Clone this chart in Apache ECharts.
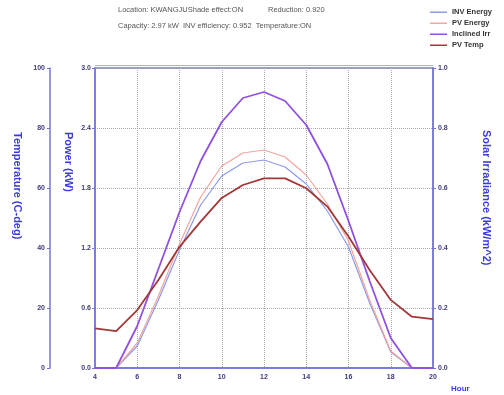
<!DOCTYPE html>
<html>
<head>
<meta charset="utf-8">
<script src="https://cdn.jsdelivr.net/npm/echarts@6/dist/echarts.min.js"></script>
<style>
  html, body { margin: 0; padding: 0; background: #fff; }
  #chart { width: 504px; height: 395px; }
</style>
</head>
<body>
<div id="chart"></div>
<script>
// 시간 (Hour)
const hours = [4, 5, 6, 7, 8, 9, 10, 11, 12, 13, 14, 15, 16, 17, 18, 19, 20];
// kW
const invEnergy = [0, 0, 0.22, 0.68, 1.18, 1.63, 1.92, 2.05, 2.08, 2.01, 1.84, 1.57, 1.21, 0.65, 0.16, 0, 0];
const pvEnergy = [0, 0, 0.25, 0.72, 1.24, 1.71, 2.02, 2.15, 2.18, 2.11, 1.93, 1.64, 1.27, 0.68, 0.17, 0, 0];
// kW/m^2
const inclinedIrr = [0, 0, 0.14, 0.33, 0.52, 0.69, 0.82, 0.90, 0.92, 0.89, 0.81, 0.68, 0.49, 0.29, 0.10, 0, 0];
// C-deg
const pvTemp = [13.2, 12.3, 19.3, 29.3, 40.4, 48.8, 56.7, 61.0, 63.2, 63.2, 59.9, 53.8, 43.8, 32.7, 22.7, 17.1, 16.3];

const axisColor = '#7474dc';
const labelStyle = { fontSize: 7, fontWeight: 'bold', color: '#3b3b78', fontFamily: 'Liberation Sans' };
const titleStyle = { fontSize: 11, fontWeight: 'bold', fill: '#3a3ae0', fontFamily: 'Liberation Sans' };
const infoStyle = { fontSize: 7.5, fill: '#555', fontFamily: 'Liberation Sans' };

function pairs(arr) {
  return hours.map((h, i) => [h, arr[i]]);
}

const chart = echarts.init(document.getElementById('chart'));
chart.setOption({
  animation: false,
  grid: {
    left: 95, right: 71, top: 68, bottom: 27,
    show: true, borderColor: axisColor, borderWidth: 1.5,
  },
  legend: {
    orient: 'vertical',
    left: 425,
    top: 3,
    itemGap: 2.5,
    itemWidth: 17,
    itemHeight: 1.5,
    icon: 'rect',
    textStyle: { fontSize: 7.5, fontWeight: 'bold', color: '#333', lineHeight: 8.5, fontFamily: 'Liberation Sans' },
    data: ['INV Energy', 'PV Energy', 'Inclined Irr', 'PV Temp'],
  },
  graphic: [
    { type: 'text', left: 118, top: 6, style: Object.assign({ text: 'Location: KWANGJUShade effect:ON' }, infoStyle) },
    { type: 'text', left: 268, top: 6, style: Object.assign({ text: 'Reduction: 0.920' }, infoStyle) },
    { type: 'text', left: 118, top: 22, style: Object.assign({ text: 'Capacity: 2.97 kW  INV efficiency: 0.952  Temperature:ON' }, infoStyle) },
    { type: 'text', x: 23, y: 132, rotation: -Math.PI / 2, style: Object.assign({ text: 'Temperature (C-deg)' }, titleStyle) },
    { type: 'text', x: 74, y: 132, rotation: -Math.PI / 2, style: Object.assign({ text: 'Power (kW)' }, titleStyle) },
    { type: 'text', x: 492, y: 130, rotation: -Math.PI / 2, style: Object.assign({ text: 'Solar Irradiance (kW/m^2)' }, titleStyle) },
    { type: 'text', left: 451, top: 385, style: { text: 'Hour', fontSize: 8, fontWeight: 'bold', fill: '#3a3ae0', fontFamily: 'Liberation Sans' } },
    { type: 'line', shape: { x1: 95, y1: 65.5, x2: 433, y2: 65.5 }, style: { stroke: axisColor, lineWidth: 1, opacity: 0.6 } },
  ],
  xAxis: {
    type: 'value',
    min: 4, max: 20, interval: 2,
    axisLine: { lineStyle: { color: axisColor, width: 1.5 } },
    axisTick: { show: false },
    axisLabel: Object.assign({ margin: 6 }, labelStyle),
    splitLine: { show: true, lineStyle: { color: '#aaa', type: 'dotted', width: 1 } },
  },
  yAxis: [
    {
      type: 'value', min: 0, max: 3, interval: 0.6, position: 'left',
      axisLine: { show: true, lineStyle: { color: axisColor, width: 1.5 } },
      axisTick: { show: true, length: 3, lineStyle: { color: axisColor } },
      axisLabel: Object.assign({ margin: 4, formatter: v => v.toFixed(1) }, labelStyle),
      splitLine: { show: true, lineStyle: { color: '#aaa', type: 'dotted', width: 1 } },
    },
    {
      type: 'value', min: 0, max: 100, interval: 20, position: 'left', offset: 45,
      axisLine: { show: true, lineStyle: { color: axisColor, width: 1.5 } },
      axisTick: { show: true, length: 3, lineStyle: { color: axisColor } },
      axisLabel: Object.assign({ margin: 5 }, labelStyle),
      splitLine: { show: false },
    },
    {
      type: 'value', min: 0, max: 1, interval: 0.2, position: 'right',
      axisLine: { show: true, lineStyle: { color: axisColor, width: 1.5 } },
      axisTick: { show: true, length: 3, lineStyle: { color: axisColor } },
      axisLabel: Object.assign({ margin: 5, formatter: v => v.toFixed(1) }, labelStyle),
      splitLine: { show: false },
    },
  ],
  series: [
    {
      name: 'INV Energy', type: 'line', yAxisIndex: 0, symbol: 'none',
      lineStyle: { color: '#8c9ae8', width: 1.2 }, itemStyle: { color: '#8c9ae8' },
      data: pairs(invEnergy),
    },
    {
      name: 'PV Energy', type: 'line', yAxisIndex: 0, symbol: 'none',
      lineStyle: { color: '#f2a6a0', width: 1.2 }, itemStyle: { color: '#f2a6a0' },
      data: pairs(pvEnergy),
    },
    {
      name: 'Inclined Irr', type: 'line', yAxisIndex: 2, symbol: 'none',
      lineStyle: { color: '#9050e0', width: 1.8 }, itemStyle: { color: '#9050e0' },
      data: pairs(inclinedIrr),
    },
    {
      name: 'PV Temp', type: 'line', yAxisIndex: 1, symbol: 'none',
      lineStyle: { color: '#a03838', width: 1.8 }, itemStyle: { color: '#a03838' },
      data: pairs(pvTemp),
    },
  ],
});
</script>
</body>
</html>
